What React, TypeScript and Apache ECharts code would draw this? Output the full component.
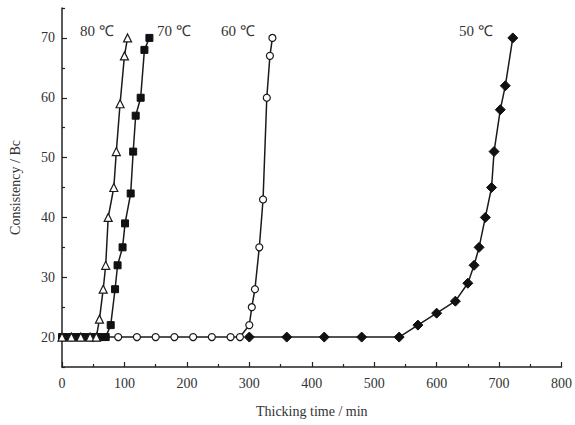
import React, { useEffect, useRef } from "react";
import * as echarts from "echarts";

const series80: [number, number][] = [
  [0, 20], [15, 20], [30, 20], [45, 20], [55, 20], [60, 23], [66, 28], [70, 32],
  [74, 40], [83, 45], [87, 51], [93, 59], [100, 67], [105, 70],
];
const series70: [number, number][] = [
  [0, 20], [10, 20], [20, 20], [30, 20], [40, 20], [50, 20], [60, 20], [70, 20],
  [78, 22], [85, 28], [89, 32], [97, 35], [101, 39], [110, 44], [114, 51],
  [118, 57], [126, 60], [132, 68], [140, 70],
];
const series60: [number, number][] = [
  [0, 20], [15, 20], [30, 20], [45, 20], [60, 20], [90, 20], [120, 20], [150, 20],
  [180, 20], [210, 20], [240, 20], [270, 20], [285, 20], [300, 22], [304, 25],
  [309, 28], [316, 35], [322, 43], [328, 60], [333, 67], [337, 70],
];
const series50: [number, number][] = [
  [300, 20], [360, 20], [420, 20], [480, 20], [540, 20], [570, 22], [600, 24],
  [630, 26], [650, 29], [660, 32], [668, 35], [678, 40], [688, 45], [692, 51],
  [702, 58], [710, 62], [722, 70],
];
const seriesNames = ["80 ℃", "70 ℃", "60 ℃", "50 ℃"];
const yMajor = [20, 30, 40, 50, 60, 70];
const yMinor = [15, 25, 35, 45, 55, 65, 75];

const FONT = "'Liberation Serif', 'Times New Roman', serif";

export default function App() {
  const ref = useRef<HTMLDivElement>(null);
  useEffect(() => {
    if (!ref.current) return;
    const chart = echarts.init(ref.current, null, { renderer: "svg" });
    const lineStyle = { color: "#1a1a1a", width: 1.5 };
    const mk = (name: string, data: [number, number][], symbol: string, size: number, filled: boolean, z: number) => ({
      name,
      type: "line",
      data,
      symbol,
      symbolSize: size,
      showAllSymbol: true,
      lineStyle,
      itemStyle: filled
        ? { color: "#111", borderColor: "#111", borderWidth: 1 }
        : { color: "#fff", borderColor: "#1a1a1a", borderWidth: 1.2 },
      z,
    });
    chart.setOption({
      animation: false,
      grid: { left: 62, right: 13, top: 8, bottom: 58, containLabel: false },
      xAxis: {
        type: "value",
        min: 0,
        max: 800,
        interval: 100,
        name: "Thicking time / min",
        nameLocation: "middle",
        nameGap: 37,
        nameTextStyle: { fontFamily: FONT, fontSize: 14, color: "#333" },
        axisLine: { lineStyle: { color: "#222", width: 1.5 } },
        axisTick: { inside: true, length: 5, lineStyle: { color: "#222", width: 1.2 } },
        minorTick: { show: true, splitNumber: 2, length: 3, lineStyle: { color: "#222", width: 1.2 } },
        axisLabel: { fontFamily: FONT, fontSize: 14, color: "#333", margin: 9 },
        splitLine: { show: false },
      },
      yAxis: [
        {
          type: "value",
          min: 15,
          max: 75,
          name: "Consistency / Bc",
          nameLocation: "middle",
          nameGap: 40,
          nameTextStyle: { fontFamily: FONT, fontSize: 14, color: "#333" },
          axisLine: { show: true, lineStyle: { color: "#222", width: 1.5 } },
          axisTick: { show: true, inside: true, length: 5, customValues: yMajor, lineStyle: { color: "#222", width: 1.2 } },
          axisLabel: { fontFamily: FONT, fontSize: 14, color: "#333", margin: 7, customValues: yMajor },
          splitLine: { show: false },
        },
        {
          type: "value",
          min: 15,
          max: 75,
          position: "left",
          axisLine: { show: false },
          axisTick: { show: true, inside: true, length: 3, customValues: yMinor, lineStyle: { color: "#222", width: 1.2 } },
          axisLabel: { show: false },
          splitLine: { show: false },
        },
      ],
      series: [
        mk(seriesNames[3], series50, "diamond", 10, true, 2),
        mk(seriesNames[2], series60, "circle", 7, false, 3),
        mk(seriesNames[1], series70, "rect", 7, true, 4),
        mk(seriesNames[0], series80, "triangle", 8, false, 5),
      ],
      graphic: [
        { type: "text", x: 80, y: 23, style: { text: seriesNames[0], font: `15px ${FONT}`, fill: "#333" } },
        { type: "text", x: 157, y: 23, style: { text: seriesNames[1], font: `15px ${FONT}`, fill: "#333" } },
        { type: "text", x: 221, y: 23, style: { text: seriesNames[2], font: `15px ${FONT}`, fill: "#333" } },
        { type: "text", x: 459, y: 23, style: { text: seriesNames[3], font: `15px ${FONT}`, fill: "#333" } },
      ],
    });
    return () => chart.dispose();
  }, []);
  return <div ref={ref} style={{ width: 575, height: 425, position: "absolute", left: 0, top: 0 }} />;
}
